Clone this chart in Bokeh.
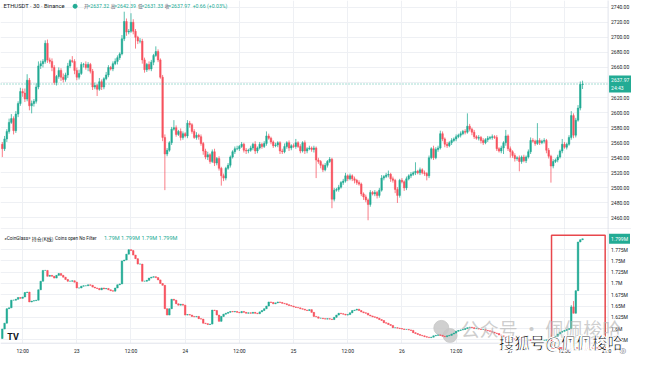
import numpy as np
from bokeh.plotting import figure
from bokeh.models import ColumnDataSource, FixedTicker, Label, Range1d, Grid
from bokeh.layouts import column
from bokeh.embed import file_html
from bokeh.resources import INLINE
from bokeh.core.properties import value

# ---------------- data ----------------
bar_start_hour = 7.5      # first 30-min bar: 22nd 07:30, hours since 22nd 00:00
bar_step_hours = 0.5

price_first_open = 2558.0
price_close = [
    2552, 2565, 2575, 2587, 2592, 2576, 2598, 2612, 2628, 2626, 2618, 2643, 2609, 2612, 2615, 2634, 2662, 2665, 2668, 2692,
    2670, 2668, 2660, 2640, 2648, 2656, 2647, 2644, 2650, 2662, 2669, 2668, 2656, 2647, 2652, 2664, 2664, 2660, 2664, 2655,
    2634, 2636, 2631, 2641, 2634, 2645, 2650, 2660, 2658, 2665, 2668, 2673, 2678, 2698, 2721, 2707, 2708, 2720, 2708, 2700,
    2695, 2695, 2670, 2657, 2664, 2658, 2667, 2676, 2681, 2670, 2647, 2567, 2545, 2550, 2560, 2578, 2580, 2571, 2575, 2567,
    2572, 2569, 2586, 2584, 2575, 2567, 2570, 2568, 2559, 2549, 2541, 2544, 2535, 2548, 2533, 2539, 2526, 2516, 2513, 2526,
    2530, 2541, 2548, 2552, 2552, 2555, 2558, 2550, 2549, 2550, 2553, 2558, 2549, 2553, 2558, 2555, 2559, 2569, 2566, 2561,
    2556, 2557, 2560, 2549, 2548, 2555, 2560, 2553, 2556, 2555, 2560, 2555, 2549, 2560, 2549, 2552, 2553, 2551, 2553, 2537,
    2535, 2530, 2524, 2530, 2535, 2538, 2485, 2497, 2498, 2501, 2507, 2509, 2516, 2512, 2516, 2512, 2510, 2507, 2505, 2492,
    2488, 2484, 2478, 2494, 2492, 2494, 2490, 2497, 2513, 2515, 2517, 2518, 2512, 2510, 2498, 2490, 2510, 2508, 2500, 2512,
    2516, 2518, 2520, 2522, 2520, 2524, 2520, 2519, 2516, 2540, 2552, 2540, 2551, 2553, 2572, 2565, 2558, 2556, 2560, 2563,
    2565, 2568, 2570, 2572, 2575, 2574, 2582, 2578, 2574, 2568, 2566, 2567, 2563, 2560, 2564, 2566, 2567, 2568, 2567, 2552,
    2549, 2553, 2560, 2569, 2552, 2548, 2543, 2539, 2540, 2535, 2541, 2536, 2541, 2548, 2563, 2562, 2559, 2563, 2560, 2562,
    2563, 2550, 2542, 2529, 2535, 2537, 2541, 2549, 2558, 2554, 2558, 2567, 2596, 2570, 2590, 2606, 2637.32, 2637.97,
]
price_upper_wick = [
    3, 4, 3, 5, 6, 3, 4, 3, 5, 4, 6, 8, 3, 4, 3, 5, 6, 4, 3, 4,
    5, 3, 4, 3, 2, 4, 3, 5, 3, 4, 2, 6, 3, 4, 5, 3, 2, 4, 3, 2,
    3, 4, 2, 5, 3, 2, 4, 3, 2, 3, 4, 3, 2, 5, 13, 4, 3, 12, 4, 3,
    2, 4, 3, 3, 2, 4, 3, 2, 7, 3, 2, 3, 4, 3, 2, 3, 10, 3, 2, 4,
    3, 2, 4, 3, 2, 3, 4, 2, 3, 2, 3, 4, 2, 3, 4, 2, 3, 2, 3, 2,
    3, 2, 2, 3, 4, 2, 3, 2, 3, 2, 3, 2, 4, 2, 3, 2, 3, 6, 3, 2,
    2, 3, 2, 2, 3, 4, 2, 3, 2, 3, 5, 2, 3, 2, 3, 2, 3, 2, 3, 2,
    3, 2, 2, 3, 2, 3, 2, 3, 2, 3, 2, 3, 4, 2, 3, 2, 3, 2, 3, 2,
    2, 3, 2, 3, 2, 3, 2, 3, 4, 2, 3, 5, 2, 3, 2, 3, 2, 3, 2, 3,
    2, 3, 2, 12, 2, 3, 2, 3, 2, 3, 2, 4, 3, 3, 4, 3, 2, 3, 2, 3,
    2, 3, 2, 3, 2, 3, 17, 3, 2, 3, 2, 3, 2, 3, 2, 3, 2, 3, 2, 3,
    2, 3, 2, 8, 2, 3, 2, 3, 2, 3, 2, 3, 2, 3, 4, 3, 2, 23, 3, 2,
    3, 2, 3, 2, 3, 2, 3, 2, 7, 3, 2, 3, 6, 3, 3, 4, 4, 4.42,
]
price_lower_wick = [
    11, 3, 4, 3, 2, 5, 3, 4, 3, 5, 4, 3, 6, 10, 4, 3, 3, 4, 5, 3,
    4, 3, 5, 3, 4, 3, 5, 4, 3, 4, 3, 2, 5, 4, 3, 2, 4, 3, 5, 3,
    4, 3, 9, 2, 4, 3, 2, 3, 2, 3, 2, 4, 3, 2, 3, 5, 3, 2, 4, 15,
    4, 3, 5, 4, 3, 2, 3, 4, 2, 3, 2, 5, 48, 3, 2, 3, 2, 3, 2, 4,
    3, 2, 3, 4, 3, 2, 3, 4, 3, 5, 3, 4, 3, 2, 4, 3, 3, 13, 4, 3,
    2, 3, 2, 3, 2, 3, 2, 3, 4, 3, 2, 3, 4, 3, 2, 3, 2, 3, 2, 3,
    3, 2, 3, 4, 3, 2, 3, 4, 3, 2, 3, 2, 3, 2, 4, 3, 2, 3, 4, 24,
    3, 4, 3, 2, 3, 2, 12, 3, 2, 3, 2, 3, 2, 3, 2, 3, 4, 3, 2, 3,
    4, 3, 21, 3, 2, 3, 4, 3, 2, 3, 2, 3, 4, 3, 5, 10, 3, 2, 4, 3,
    2, 3, 2, 3, 2, 3, 2, 3, 6, 3, 2, 3, 2, 3, 2, 3, 4, 3, 2, 3,
    2, 3, 2, 3, 2, 3, 2, 3, 4, 3, 2, 3, 4, 3, 2, 3, 2, 3, 2, 3,
    2, 3, 8, 4, 3, 8, 3, 4, 3, 13, 3, 2, 3, 2, 3, 2, 3, 2, 3, 2,
    3, 4, 3, 22, 3, 2, 3, 2, 3, 2, 3, 2, 3, 4, 3, 2, 3, 5.99,
]

oi_first_open = 1.578   # open interest, millions
oi_close = [
    1.599, 1.612, 1.644, 1.646, 1.663, 1.663, 1.665, 1.669, 1.667, 1.670, 1.680, 1.681, 1.659, 1.661, 1.662, 1.663, 1.686, 1.705, 1.729, 1.729,
    1.716, 1.718, 1.716, 1.712, 1.718, 1.722, 1.718, 1.714, 1.709, 1.705, 1.705, 1.706, 1.703, 1.690, 1.690, 1.694, 1.695, 1.695, 1.697, 1.696,
    1.692, 1.690, 1.689, 1.686, 1.690, 1.688, 1.689, 1.686, 1.684, 1.683, 1.690, 1.697, 1.699, 1.750, 1.752, 1.765, 1.775, 1.773, 1.763, 1.755,
    1.743, 1.743, 1.705, 1.705, 1.707, 1.712, 1.714, 1.715, 1.713, 1.708, 1.700, 1.696, 1.644, 1.630, 1.644, 1.665, 1.663, 1.655, 1.652, 1.654,
    1.652, 1.630, 1.631, 1.630, 1.627, 1.626, 1.627, 1.622, 1.621, 1.612, 1.611, 1.609, 1.610, 1.641, 1.640, 1.630, 1.616, 1.627, 1.632, 1.634,
    1.636, 1.638, 1.637, 1.638, 1.636, 1.635, 1.638, 1.636, 1.634, 1.635, 1.634, 1.636, 1.634, 1.633, 1.637, 1.640, 1.644, 1.650, 1.659, 1.658,
    1.655, 1.657, 1.659, 1.658, 1.656, 1.655, 1.653, 1.651, 1.650, 1.648, 1.647, 1.646, 1.644, 1.643, 1.641, 1.640, 1.642, 1.636, 1.627, 1.626,
    1.623, 1.623, 1.622, 1.621, 1.622, 1.621, 1.620, 1.625, 1.630, 1.634, 1.633, 1.632, 1.630, 1.631, 1.635, 1.640, 1.641, 1.643, 1.640, 1.637,
    1.635, 1.634, 1.630, 1.628, 1.626, 1.625, 1.623, 1.620, 1.618, 1.613, 1.612, 1.609, 1.607, 1.602, 1.602, 1.601, 1.600, 1.599, 1.598, 1.598,
    1.597, 1.596, 1.591, 1.589, 1.587, 1.585, 1.584, 1.582, 1.581, 1.580, 1.581, 1.584, 1.585, 1.586, 1.585, 1.583, 1.582, 1.584, 1.585, 1.588,
    1.590, 1.594, 1.596, 1.597, 1.598, 1.600, 1.602, 1.603, 1.602, 1.600, 1.600, 1.599, 1.598, 1.598, 1.596, 1.595, 1.594, 1.592, 1.590, 1.589,
    1.586, 1.584, 1.582, 1.581, 1.579, 1.578, 1.577, 1.576, 1.576, 1.575, 1.575, 1.574, 1.574, 1.575, 1.574, 1.575, 1.574, 1.575, 1.573, 1.574,
    1.574, 1.575, 1.576, 1.578, 1.580, 1.583, 1.588, 1.592, 1.594, 1.596, 1.598, 1.600, 1.648, 1.634, 1.684, 1.792, 1.797, 1.799,
]
oi_high_marks = {252: 1.652, 253: 1.661}

date_tick_hours = [12, 24, 36, 48, 60, 72, 84, 96, 108, 120, 132]
date_tick_labels = ["12:00", "23", "12:00", "24", "12:00", "25", "12:00", "26", "12:00", "27", "12:00"]
now_tick_hour = 141.3
now_tick_label = "21:0"
price_ticks = [2460, 2480, 2500, 2520, 2540, 2560, 2580, 2600, 2620, 2660, 2680, 2700, 2720, 2740]
price_tick_labels = ["%.2f" % v for v in price_ticks]
oi_ticks = [1.575, 1.6, 1.625, 1.65, 1.675, 1.7, 1.725, 1.75, 1.775]
oi_tick_labels = ["1.575M", "1.6M", "1.625M", "1.65M", "1.675M", "1.7M", "1.725M", "1.75M", "1.775M"]
last_price = 2637.97
last_price_box = "2637.97\n24:43"
last_oi = 1.799
last_oi_box = "1.799M"
legend_title = "ETHUSDT · 30 · Binance"
legend_keys = ["开", "高", "低", "收"]
legend_values = ["2637.32", "2642.39", "2631.33", "2637.97"]
legend_change = "+0.66 (+0.03%)"
oi_legend_parts = ["«CoinGlass»", "持仓(K线)", "Coins open No Filter"]
oi_legend_values = "1.79M 1.799M 1.79M 1.799M"

# ---------------- styling / layout ----------------
UP = "#22ab94"
DOWN = "#f7525f"
GRID = "#eef0f4"
EDGE = "#e0e3eb"
TXT = "#131722"
LATIN = "Roboto"
CJK = "Noto Sans CJK SC"

W = 631
X0, X1 = 7.1, 146.84          # whole width of the picture, in hours


def hx(px):                    # horizontal position in reference pixels -> hours
    return X0 + px / 4.63


def py_price(px):              # vertical position (top pane) -> price
    return 2748.9 - px * 1.2727


def py_oi(px):                 # vertical position (bottom pane) -> open interest
    return 1.8197 - (px - 239) * 0.25 / 118


XA = hx(623)                   # left edge of the price-scale strip

xr = Range1d(X0, X1)


def candles(p, opens, closes, highs, lows, t, width):
    colors = [UP if c >= o else DOWN for o, c in zip(opens, closes)]
    src = ColumnDataSource(dict(t=t, h=highs, l=lows, col=colors,
                                top=[max(o, c) for o, c in zip(opens, closes)],
                                bot=[min(o, c) for o, c in zip(opens, closes)]))
    p.segment("t", "h", "t", "l", source=src, line_color="col", line_width=1, line_alpha=0.75)
    p.vbar(x="t", width=width, top="top", bottom="bot", source=src,
           fill_color="col", line_color="col", line_width=0.5)


def base_fig(h, yr):
    p = figure(frame_width=W, frame_height=h, x_range=xr, y_range=yr,
               x_axis_location=None, y_axis_location=None, toolbar_location=None,
               output_backend="svg", min_border=0)
    p.outline_line_color = None
    p.grid.visible = False
    p.background_fill_color = "white"
    return p


def scale_labels(p, ticks, labels):
    p.text(x=[hx(626)] * len(ticks), y=ticks, text=labels, text_font=value(LATIN),
           text_font_size="5px", text_color=TXT, text_baseline="middle", text_align="left")


def lab(p, px, y, text, size, color=TXT, font=LATIN, **kw):
    p.add_layout(Label(x=hx(px), y=y, text=text, text_font=font, text_font_size=size,
                       text_color=color, text_baseline="middle", **kw))


n = len(price_close)
t = list(bar_start_hour + bar_step_hours * np.arange(n))

p_open = [price_first_open] + price_close[:-1]
p_high = [max(o, c) + w for o, c, w in zip(p_open, price_close, price_upper_wick)]
p_low = [min(o, c) - w for o, c, w in zip(p_open, price_close, price_lower_wick)]

o_open = [oi_first_open] + oi_close[:-1]
o_high = [oi_high_marks.get(i, max(o, c)) for i, (o, c) in enumerate(zip(o_open, oi_close))]
o_low = [min(o, c) for o, c in zip(o_open, oi_close)]

# ---------------- top pane: price ----------------
p1 = base_fig(229, Range1d(py_price(239), py_price(0)))
p1.add_layout(Grid(dimension=0, ticker=FixedTicker(ticks=date_tick_hours), grid_line_color=GRID))
p1.add_layout(Grid(dimension=1, ticker=FixedTicker(ticks=price_ticks + [2640]), grid_line_color=GRID))

candles(p1, p_open, price_close, p_high, p_low, t, 0.34)
p1.line([X0, XA], [last_price, last_price], line_color=UP, line_dash="1 2", line_width=1, line_alpha=0.8)

# price-scale strip
p1.quad(left=[XA], right=[X1], top=[py_price(-5)], bottom=[py_price(245)], fill_color="white", line_color=None)
p1.line([XA, XA], [py_price(-5), py_price(245)], line_color=EDGE, line_width=1)
p1.line([X0, X1], [py_price(238.6), py_price(238.6)], line_color="#d9dce3", line_width=1)
scale_labels(p1, price_ticks, price_tick_labels)

yt = py_price(6)
lab(p1, 3, yt, legend_title, "5.8px")
p1.scatter([hx(76.5)], [yt], size=4, color=UP)
key_px = [85.5, 113, 141, 168.5]
for k, v, kp in zip(legend_keys, legend_values, key_px):
    lab(p1, kp, yt, k, "4.6px", color="#50535e", font=CJK)
    lab(p1, kp + 3.6, yt, "=" + v, "5.2px", color=UP)
lab(p1, 197, yt, legend_change, "5.2px", color=UP)

box_kw = dict(background_fill_color=UP, text_align="left")
if "padding" in Label.properties():
    box_kw["padding"] = 2
lab(p1, 624, last_price, last_price_box, "5px", color="white", **box_kw)

# ---------------- bottom pane: open interest ----------------
p2 = base_fig(129, Range1d(py_oi(374), py_oi(239)))
p2.add_layout(Grid(dimension=0, ticker=FixedTicker(ticks=date_tick_hours), grid_line_color=GRID))
p2.add_layout(Grid(dimension=1, ticker=FixedTicker(ticks=oi_ticks), grid_line_color=GRID))

# faint WeChat watermark behind the candles
p2.scatter([hx(452), hx(461)], [py_oi(342), py_oi(350)], size=[15, 14], color="#c8c8c8", alpha=0.85)
lab(p2, 472, py_oi(343), "公众号 · 佩佩梭哈", "19px", color="#b8b8b8", font=CJK, text_alpha=0.7)

candles(p2, o_open, oi_close, o_high, o_low, t, 0.34)

# strips for the price scale and the time scale
p2.quad(left=[XA], right=[X1], top=[py_oi(230)], bottom=[py_oi(380)], fill_color="white", line_color=None)
p2.quad(left=[X0], right=[X1], top=[py_oi(358)], bottom=[py_oi(380)], fill_color="white", line_color=None)
p2.line([XA, XA], [py_oi(230), py_oi(358)], line_color=EDGE, line_width=1)
p2.line([X0, XA], [py_oi(358), py_oi(358)], line_color=EDGE, line_width=1)
scale_labels(p2, oi_ticks, oi_tick_labels)
p2.text(x=date_tick_hours + [now_tick_hour], y=[py_oi(366)] * (len(date_tick_hours) + 1),
        text=date_tick_labels + [now_tick_label], text_font=value(LATIN), text_font_size="5px",
        text_color=TXT, text_baseline="middle", text_align="center")
p2.text(x=[hx(638)], y=[py_oi(366)], text=["◎"], text_font=value("DejaVu Sans"),
        text_font_size="8px", text_color="#6a6d78", text_baseline="middle", text_align="center")

# highlight frame
p2.quad(left=[hx(565)], right=[hx(620)], top=[py_oi(245)], bottom=[py_oi(363)], fill_color=None,
        line_color="#e8474c", line_width=1.5)

yl = py_oi(248)
lab(p2, 4, yl, oi_legend_parts[0], "4.8px")
lab(p2, 32, yl, oi_legend_parts[1], "5px", font=CJK)
lab(p2, 56, yl, oi_legend_parts[2], "4.6px")
lab(p2, 106, yl, oi_legend_values, "5.6px", color=UP)
lab(p2, 624, last_oi, last_oi_box, "5px", color="white", **box_kw)
lab(p2, 7, py_oi(352), "TV", "9px", text_font_style="bold")

wm_kw = dict(text_font_style="bold")
if "text_outline_color" in Label.properties():
    wm_kw["text_outline_color"] = "white"
lab(p2, 511, py_oi(357), "搜狐号@佩佩梭哈", "15.5px", color="black", font=CJK, **wm_kw)

layout = column(p1, p2, spacing=0)
open("out.html", "w").write(file_html(layout, INLINE))
